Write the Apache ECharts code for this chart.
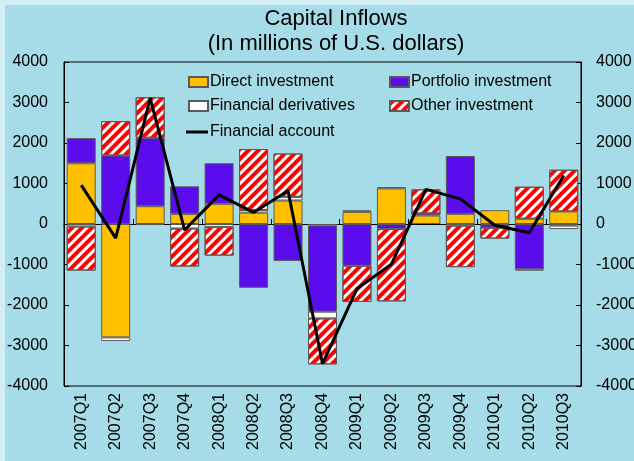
<!DOCTYPE html>
<html>
<head>
<meta charset="utf-8">
<script src="https://cdn.jsdelivr.net/npm/echarts@6/dist/echarts.min.js"></script>
<style>
  html, body { margin: 0; padding: 0; background: #d4eef5; }
  #chart {
    width: 634px; height: 461px;
    background: #a6dce8;
    box-shadow: inset 5px 5px 0 #d4eef5;
  }
</style>
</head>
<body>
<div id="chart"></div>
<script>
// quarters on the x axis
var quarters = ['2007Q1', '2007Q2', '2007Q3', '2007Q4', '2008Q1', '2008Q2', '2008Q3', '2008Q4',
    '2009Q1', '2009Q2', '2009Q3', '2009Q4', '2010Q1', '2010Q2', '2010Q3'];
// stacked components, millions of USD
var directInv = [1500, -2800, 440, 250, 500, 280, 580, -35, 300, 880, 210, 250, 340, 130, 310];
var portfolioInv = [620, 1690, 1690, 680, 1000, -1575, -915, -2130, -1030, -125, 50, 1430, -90, -1120, -40];
var derivatives = [-60, -90, -20, -110, -70, 65, 90, -165, 40, 30, 0, -40, 0, -30, -85];
var otherInv = [-1090, 850, 1000, -940, -710, 1505, 1070, -1135, -895, -1785, 595, -1025, -270, 790, 1030];
// total line
var financialAccount = [960, -350, 3110, -150, 720, 285, 820, -3450, -1600, -990, 855, 620, -30, -215, 1200];
var yTicks = [-4000, -3000, -2000, -1000, 0, 1000, 2000, 3000, 4000];

var FONT = 'Liberation Sans, Arial, sans-serif';
var chart = echarts.init(document.getElementById('chart'), null, {renderer: 'canvas'});

var barBorder = {borderColor: '#5a5a5a', borderWidth: 1};

function legendAt(name, left, top, w, h) {
    return {
        data: [{name: name, icon: 'rect'}], left: left, top: top, padding: 0, itemGap: 0,
        itemWidth: w || 19, itemHeight: h || 10,
        textStyle: {fontSize: 16, color: '#000', fontFamily: FONT, padding: [0, 0, 0, -3]},
        selectedMode: false
    };
}

function yAxisDef(pos, margin) {
    return {
        type: 'value', position: pos,
        min: yTicks[0], max: yTicks[yTicks.length - 1], interval: 1000,
        axisLine: {show: true, lineStyle: {color: '#000', width: 1}},
        axisTick: {show: true, inside: true, length: 5, lineStyle: {color: '#000'}},
        splitLine: {show: false},
        axisLabel: {fontSize: 16, color: '#000', fontFamily: FONT, margin: margin,
            formatter: function (v) { return String(v); }}
    };
}

var option = {
    animation: false,
    backgroundColor: 'transparent',
    graphic: [
        {type: 'text', x: 336, y: 19, style: {text: 'Capital Inflows', textAlign: 'center',
            textVerticalAlign: 'middle', font: '22px ' + FONT, fill: '#000'}},
        {type: 'text', x: 336, y: 44, style: {text: '(In millions of U.S. dollars)', textAlign: 'center',
            textVerticalAlign: 'middle', font: '22px ' + FONT, fill: '#000'}}
    ],
    legend: [
        legendAt('Direct investment', 188, 74),
        legendAt('Portfolio investment', 389, 74),
        legendAt('Financial derivatives', 188, 98),
        legendAt('Other investment', 389, 98),
        legendAt('Financial account', 186, 124, 22, 3)
    ],
    grid: {left: 64, right: 53, top: 62, bottom: 75, show: true, borderColor: '#000', borderWidth: 1,
        backgroundColor: 'transparent', outerBoundsMode: 'none', containLabel: false},
    xAxis: [
        {
            type: 'category', data: quarters, position: 'bottom',
            axisLine: {onZero: true, lineStyle: {color: '#000', width: 1}},
            axisTick: {show: true, inside: true, length: 5, lineStyle: {color: '#000'}},
            axisLabel: {show: false}
        },
        {
            type: 'category', data: quarters, position: 'bottom',
            axisLine: {show: false, onZero: false},
            axisTick: {show: false},
            axisLabel: {rotate: 90, fontSize: 16, color: '#000', fontFamily: FONT, margin: 7}
        }
    ],
    yAxis: [yAxisDef('left', 16), yAxisDef('right', 15)],
    series: [
        {name: 'Direct investment', type: 'bar', stack: 'cap', data: directInv, barWidth: 29,
            itemStyle: Object.assign({color: '#ffc000'}, barBorder)},
        {name: 'Portfolio investment', type: 'bar', stack: 'cap', data: portfolioInv,
            itemStyle: Object.assign({color: '#5a0cec'}, barBorder)},
        {name: 'Financial derivatives', type: 'bar', stack: 'cap', data: derivatives,
            itemStyle: Object.assign({color: '#ffffff'}, barBorder)},
        {name: 'Other investment', type: 'bar', stack: 'cap', data: otherInv,
            itemStyle: Object.assign({
                color: '#ffffff',
                decal: {symbol: 'rect', symbolSize: 1, color: '#ff0000',
                    dashArrayX: [1, 0], dashArrayY: [4, 3], rotation: -Math.PI / 4}
            }, barBorder)},
        {name: 'Financial account', type: 'line', data: financialAccount, symbol: 'none',
            z: 5, itemStyle: {color: '#000'}, lineStyle: {color: '#000', width: 3}}
    ]
};

chart.setOption(option);
</script>
</body>
</html>
